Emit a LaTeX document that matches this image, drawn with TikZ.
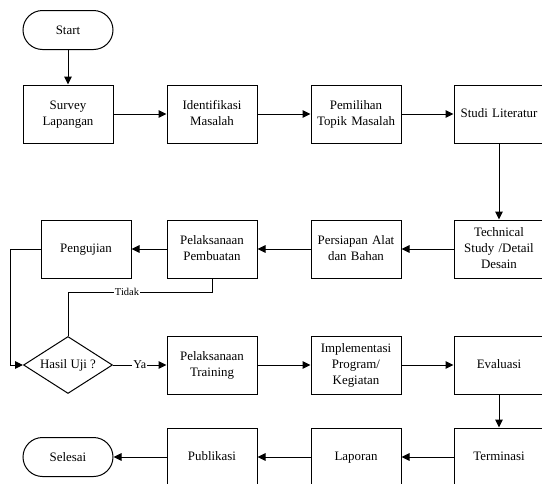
\documentclass[tikz,border=0pt]{standalone}
\usepackage{fontspec}
\setmainfont{Liberation Serif}
\usetikzlibrary{shapes.geometric,arrows.meta}

\begin{document}
\begin{tikzpicture}[%
    x=1pt,
    y=-1pt,
    block/.style={
      rectangle,
      draw,
      line width=1pt,
      minimum width=90pt,
      minimum height=58pt,
      text width=86pt,
      inner sep=1pt,
      align=center,
      execute at begin node=\strut,
      execute at end node=\strut,
      font=\fontsize{12.9}{16}\selectfont
    },
    terminal/.style={
      rectangle,
      draw,
      line width=1pt,
      rounded corners=19.5pt,
      minimum width=90pt,
      minimum height=39pt,
      font=\fontsize{12.9}{16}\selectfont
    },
    decision/.style={
      diamond,
      draw,
      line width=1pt,
      aspect=1.56,
      inner sep=1pt,
      minimum width=89pt,
      minimum height=57pt,
      font=\fontsize{12.9}{16}\selectfont
    },
    arr/.style={-{Triangle[length=8pt,width=7.5pt]}, line width=1pt},
    line/.style={line width=1pt},
    lbl/.style={fill=white, inner sep=1pt}
  ]
    \useasboundingbox (0,0) rectangle (542,483);
    \clip (0,0) rectangle (542,483);

    \node[terminal] (start) at (68,30) {Start};
    \node[block] (survey) at (68,114) {Survey\\Lapangan};
    \node[block] (identifikasi) at (212,114) {Identifikasi\\Masalah};
    \node[block] (pemilihan) at (356,114) {Pemilihan\\Topik Masalah};
    \node[block] (studi) at (499,114) {Studi Literatur};

    \node[block] (technical) at (499,249) {Technical\\Study /Detail\\Desain};
    \node[block] (persiapan) at (356,249) {Persiapan Alat\\dan Bahan};
    \node[block] (pembuatan) at (212,249) {Pelaksanaan\\Pembuatan};
    \node[block] (pengujian) at (86,249) {Pengujian};

    \node[decision] (hasil) at (68,365) {Hasil Uji ?};
    \node[block] (training) at (212,365) {Pelaksanaan\\Training};
    \node[block] (implementasi) at (356,365) {Implementasi\\Program/\\Kegiatan};
    \node[block] (evaluasi) at (499,365) {Evaluasi};

    \node[block] (terminasi) at (499,457) {Terminasi};
    \node[block] (laporan) at (356,457) {Laporan};
    \node[block] (publikasi) at (212,457) {Publikasi};
    \node[terminal] (selesai) at (68,457) {Selesai};

    \coordinate (tidakbend) at (212,292);

    \draw[arr] (start) -- (survey);
    \draw[arr] (survey) -- (identifikasi);
    \draw[arr] (identifikasi) -- (pemilihan);
    \draw[arr] (pemilihan) -- (studi);
    \draw[arr] (studi) -- (technical);
    \draw[arr] (technical) -- (persiapan);
    \draw[arr] (persiapan) -- (pembuatan);
    \draw[arr] (pembuatan) -- (pengujian);
    \draw[arr] (pengujian.west) -- ++(-30,0) |- (hasil.west);
    \draw[line] (hasil.north) |- node[pos=0.705, lbl, font=\fontsize{10.5}{12}\selectfont] {Tidak} (tidakbend) -- (pembuatan.south);
    \draw[arr] (hasil.east) -- node[lbl, font=\fontsize{12}{14}\selectfont] {Ya} (training.west);
    \draw[arr] (training) -- (implementasi);
    \draw[arr] (implementasi) -- (evaluasi);
    \draw[arr] (evaluasi) -- (terminasi);
    \draw[arr] (terminasi) -- (laporan);
    \draw[arr] (laporan) -- (publikasi);
    \draw[arr] (publikasi) -- (selesai);

  \end{tikzpicture}
\end{document}
